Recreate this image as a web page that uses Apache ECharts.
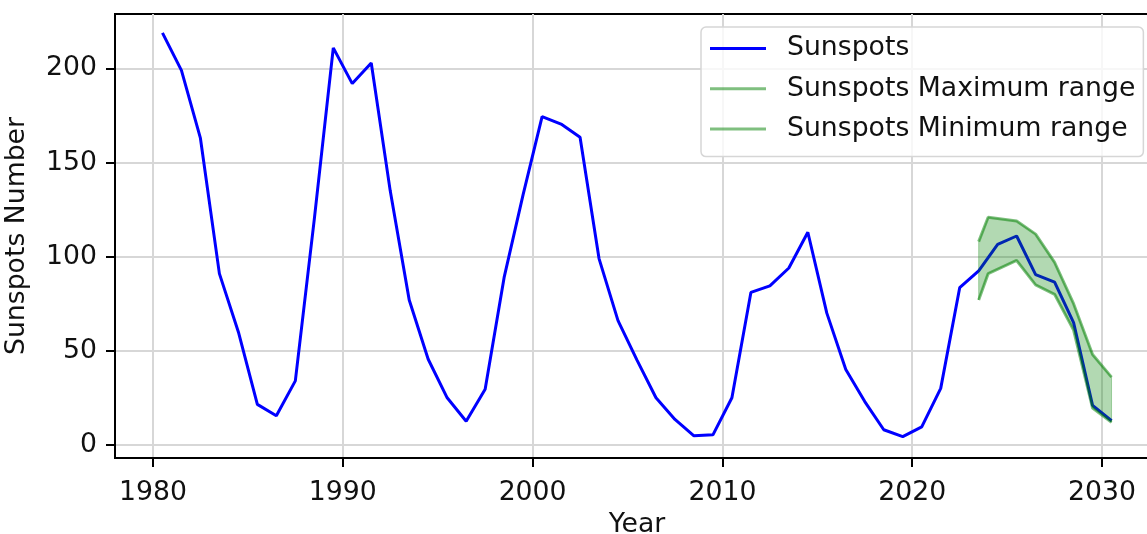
<!DOCTYPE html>
<html>
<head>
<meta charset="utf-8">
<script src="https://cdn.jsdelivr.net/npm/echarts@6/dist/echarts.min.js"></script>
<style>
html,body{margin:0;padding:0;background:#fff;}
#chart{width:1147px;height:534px;}
</style>
</head>
<body>
<div id="chart"></div>
<script>
// Observed sunspot numbers (yearly, mid-year)
const years = [1980.5,1981.5,1982.5,1983.5,1984.5,1985.5,1986.5,1987.5,1988.5,1989.5,
  1990.5,1991.5,1992.5,1993.5,1994.5,1995.5,1996.5,1997.5,1998.5,1999.5,
  2000.5,2001.5,2002.5,2003.5,2004.5,2005.5,2006.5,2007.5,2008.5,2009.5,
  2010.5,2011.5,2012.5,2013.5,2014.5,2015.5,2016.5,2017.5,2018.5,2019.5,
  2020.5,2021.5,2022.5,2023.5,2024.5,2025.5,2026.5,2027.5,2028.5,2029.5,2030.5];
const sunspots = [219,199,163,91,60,21.5,15.5,34,120,211,
  192,203,135,77,45.5,25,12.5,29.5,89,133,
  174.5,170.5,163.5,99,66,45,25,13.5,4.8,5.3,
  25,81,84.5,94,113,70,40,23,8,4.4,
  9.5,30,83.5,92.5,106.5,111,90.5,86.5,65,21,12.8];

// Predicted range
const rangeYears = [2023.5,2024.0,2025.5,2026.5,2027.5,2028.5,2029.5,2030.5];
const maxRange = [108,121,119,112,97,75,48,36];
const minRange = [77,91,98,85,80,61,19.5,12];

const xTicks = [1980,1990,2000,2010,2020,2030];
const yTicks = [0,50,100,150,200];

const seriesNames = ['Sunspots','Sunspots Maximum range','Sunspots Minimum range'];

const pairs = (xs, ys) => xs.map((x, i) => [x, ys[i]]);

const chart = echarts.init(document.getElementById('chart'), null, {renderer:'canvas'});
const FONT = 'DejaVu Sans';
const FS = 26.7;
const green = 'rgba(0,128,0,0.5)';

chart.setOption({
  animation: false,
  backgroundColor: '#fff',
  textStyle: {fontFamily: FONT},
  grid: {left: 115, right: -12, top: 14, bottom: 76, show: true,
    outerBoundsMode: 'none', containLabel: false,
    borderColor: '#000', borderWidth: 2, backgroundColor: 'transparent'},
  legend: {
    data: seriesNames.map(n => ({name: n, icon: 'rect'})),
    orient: 'vertical', left: 701, top: 27,
    itemWidth: 56, itemHeight: 3, itemGap: 13.3,
    padding: [8, 8, 14, 9],
    backgroundColor: 'rgba(255,255,255,0.8)',
    borderColor: '#d6d6d6', borderWidth: 1.5, borderRadius: 5,
    textStyle: {fontFamily: FONT, fontSize: FS, color: '#111', lineHeight: 26.7, padding: [0,0,0,16]}
  },
  xAxis: {
    type: 'value', min: 1978, max: 2033,
    name: 'Year', nameLocation: 'middle', nameGap: 52,
    nameTextStyle: {fontFamily: FONT, fontSize: FS, color: '#111'},
    axisLine: {show: true, onZero: false, lineStyle: {color: '#000', width: 2}},
    axisTick: {show: true, length: 9, customValues: xTicks, lineStyle: {color: '#000', width: 2}},
    axisLabel: {customValues: xTicks, fontFamily: FONT, fontSize: FS, color: '#111', margin: 22,
      formatter: v => String(v)},
    splitLine: {show: true, lineStyle: {color: '#d7d7d7', width: 2}}
  },
  yAxis: {
    type: 'value', min: -7, max: 229,
    name: 'Sunspots Number', nameLocation: 'middle', nameGap: 84, nameRotate: 90,
    nameTextStyle: {fontFamily: FONT, fontSize: FS, color: '#111'},
    axisLine: {show: true, onZero: false, lineStyle: {color: '#000', width: 2}},
    axisTick: {show: true, length: 9, customValues: yTicks, lineStyle: {color: '#000', width: 2}},
    axisLabel: {customValues: yTicks, fontFamily: FONT, fontSize: FS, color: '#111', margin: 18,
      formatter: v => String(v)},
    splitLine: {show: true, lineStyle: {color: '#d7d7d7', width: 2}}
  },
  series: [
    {
      name: seriesNames[0], type: 'line', data: pairs(years, sunspots),
      showSymbol: false, symbol: 'none', color: '#0000ff',
      lineStyle: {color: '#0000ff', width: 3}, z: 3
    },
    {
      name: 'band', type: 'custom', z: 4, silent: true,
      data: rangeYears.map((x, i) => [x, maxRange[i], minRange[i]]),
      encode: {x: 0, y: [1, 2]},
      renderItem: function (params, api) {
        if (params.dataIndex !== 0) return;
        const pts = [];
        for (let i = 0; i < rangeYears.length; i++) pts.push(api.coord([rangeYears[i], maxRange[i]]));
        for (let i = rangeYears.length - 1; i >= 0; i--) pts.push(api.coord([rangeYears[i], minRange[i]]));
        return {type: 'polygon', shape: {points: pts},
          style: {fill: 'rgba(0,128,0,0.3)', stroke: 'rgba(0,128,0,0.3)', lineWidth: 1}};
      }
    },
    {
      name: seriesNames[1], type: 'line', data: pairs(rangeYears, maxRange),
      showSymbol: false, symbol: 'none', color: green,
      lineStyle: {color: green, width: 3}, z: 5
    },
    {
      name: seriesNames[2], type: 'line', data: pairs(rangeYears, minRange),
      showSymbol: false, symbol: 'none', color: green,
      lineStyle: {color: green, width: 3}, z: 5
    }
  ]
});
</script>
</body>
</html>
